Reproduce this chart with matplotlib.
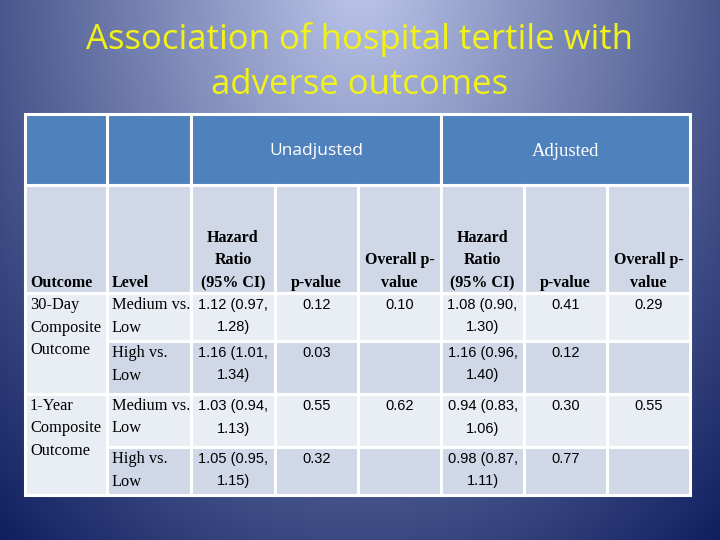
import matplotlib.pyplot as plt
import matplotlib.patches as patches
import numpy as np

# table values
outcomes = ["30-Day\nComposite\nOutcome", "1-Year\nComposite\nOutcome"]
levels = ["Medium vs.\nLow", "High vs.\nLow", "Medium vs.\nLow", "High vs.\nLow"]
hr_unadj = [(1.12, 0.97, 1.28), (1.16, 1.01, 1.34), (1.03, 0.94, 1.13), (1.05, 0.95, 1.15)]
p_unadj = [0.12, 0.03, 0.55, 0.32]
overall_unadj = [0.10, 0.62]
hr_adj = [(1.08, 0.90, 1.30), (1.16, 0.96, 1.40), (0.94, 0.83, 1.06), (0.98, 0.87, 1.11)]
p_adj = [0.41, 0.12, 0.30, 0.77]
overall_adj = [0.29, 0.55]

title = "Association of hospital tertile with\nadverse outcomes"
col_heads = ["Outcome", "Level", "Hazard\nRatio\n(95% CI)", "p-value", "Overall p-\nvalue",
             "Hazard\nRatio\n(95% CI)", "p-value", "Overall p-\nvalue"]

# layout (pixels)
xe = [25, 107, 191, 275, 358, 441, 524, 607, 690]
ye = [114, 185, 293, 341, 394, 447, 495]
line_h = 22.5

c_head = "#4F81BD"
c_dark = "#D0D8E8"
c_light = "#E9EDF4"

fig = plt.figure(figsize=(7.2, 5.4), dpi=100)
ax = fig.add_axes([0, 0, 1, 1])
ax.set_xlim(0, 720)
ax.set_ylim(540, 0)
ax.axis("off")

# background gradient
gx, gy = np.meshgrid(np.arange(720), np.arange(540))
d = np.sqrt(((gx - 360) / 545.0) ** 2 + ((gy + 20) / 750.0) ** 2)
d = np.clip(d, 0, 1)
c0 = np.array([188, 198, 234]) / 255.0
c1 = np.array([14, 30, 94]) / 255.0
img = c0[None, None, :] * (1 - d[..., None]) + c1[None, None, :] * d[..., None]
ax.imshow(img, extent=[0, 720, 540, 0], zorder=0, aspect="auto")

ax.text(360, 62, title, ha="center", va="center", fontsize=25, color="#F2F218",
        family="Open Sans", linespacing=1.42)


def cell(x0, x1, y0, y1, color):
    ax.add_patch(patches.Rectangle((x0, y0), x1 - x0, y1 - y0, facecolor=color,
                                   edgecolor="white", linewidth=2.2, zorder=2))


# header row 1
cell(xe[0], xe[1], ye[0], ye[1], c_head)
cell(xe[1], xe[2], ye[0], ye[1], c_head)
cell(xe[2], xe[5], ye[0], ye[1], c_head)
cell(xe[5], xe[8], ye[0], ye[1], c_head)
ax.text((xe[2] + xe[5]) / 2, 151, "Unadjusted", ha="center", va="center", color="white",
        fontsize=12.5, family="Open Sans", zorder=3)
ax.text((xe[5] + xe[8]) / 2, 151, "Adjusted", ha="center", va="center", color="white",
        fontsize=13.5, family="Liberation Serif", zorder=3)

# header row 2
serif = "Liberation Serif"
sans = "Liberation Sans"
for j, h in enumerate(col_heads):
    cell(xe[j], xe[j + 1], ye[1], ye[2], c_dark)
    lines = h.split("\n")
    for k, ln in enumerate(lines):
        y = 283 - (len(lines) - 1 - k) * line_h
        if j < 2:
            ax.text(xe[j] + 5, y, ln, ha="left", va="center", fontsize=11.5, family=serif,
                    weight="bold", zorder=3)
        else:
            ax.text((xe[j] + xe[j + 1]) / 2, y, ln, ha="center", va="center", fontsize=11.5,
                    family=serif, weight="bold", zorder=3)

# data rows
for i in range(4):
    y0, y1 = ye[2 + i], ye[3 + i]
    col = c_light if i % 2 == 0 else c_dark
    for j in range(1, 8):
        cell(xe[j], xe[j + 1], y0, y1, col)
    yt = y0 + 12
    for k, ln in enumerate(levels[i].split("\n")):
        ax.text(xe[1] + 5, yt + k * line_h, ln, ha="left", va="center", fontsize=11.8,
                family=serif, zorder=3)
    for j, hr in [(2, hr_unadj[i]), (5, hr_adj[i])]:
        xc = (xe[j] + xe[j + 1]) / 2
        ax.text(xc, yt, f"{hr[0]:.2f} ({hr[1]:.2f},", ha="center", va="center",
                fontsize=10.5, family=sans, zorder=3)
        ax.text(xc, yt + line_h, f"{hr[2]:.2f})", ha="center", va="center",
                fontsize=10.5, family=sans, zorder=3)
    for j, p in [(3, p_unadj[i]), (6, p_adj[i])]:
        ax.text((xe[j] + xe[j + 1]) / 2, yt, f"{p:.2f}", ha="center", va="center",
                fontsize=10.5, family=sans, zorder=3)
    if i % 2 == 0:
        g = i // 2
        for j, p in [(4, overall_unadj[g]), (7, overall_adj[g])]:
            ax.text((xe[j] + xe[j + 1]) / 2, yt, f"{p:.2f}", ha="center", va="center",
                    fontsize=10.5, family=sans, zorder=3)

# merged outcome cells
for g in range(2):
    y0, y1 = ye[2 + 2 * g], ye[4 + 2 * g]
    cell(xe[0], xe[1], y0, y1, c_light)
    for k, ln in enumerate(outcomes[g].split("\n")):
        ax.text(xe[0] + 5, y0 + 12 + k * line_h, ln, ha="left", va="center", fontsize=11.8,
                family=serif, zorder=3)

fig.savefig("out.png", dpi=100)
